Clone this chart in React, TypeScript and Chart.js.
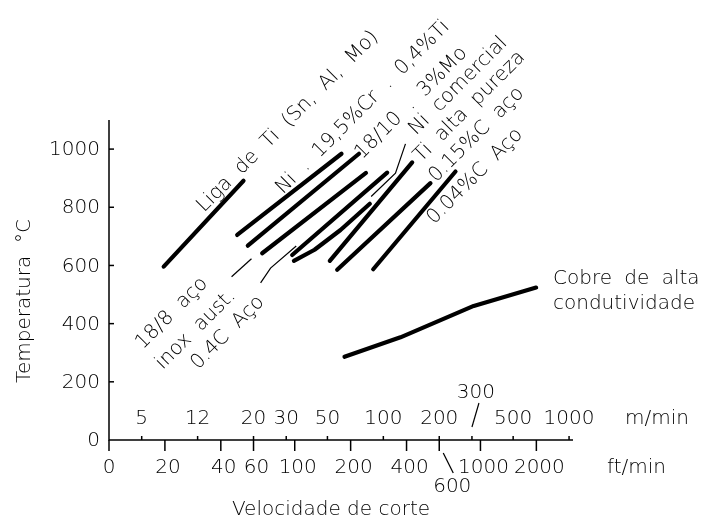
import React, { useEffect, useRef } from "react";
import { Chart, registerables } from "chart.js";

Chart.register(...registerables);

// ---------- data (x = cutting speed in ft/min, y = temperature in °C) ----------
const yTickValues = [0, 200, 400, 600, 800, 1000];
const ftTickValues = [10, 20, 40, 60, 100, 200, 400, 600, 1000, 2000];
const ftTickLabels = ["0", "20", "40", "60", "100", "200", "400", "600", "1000", "2000"];
const mTickLabels = ["5", "12", "20", "30", "50", "100", "200", "300", "500", "1000"];
const mTickAtFt = [15, 30, 60, 90, 150, 300, 600, 900, 1500, 3000];

const ligaTiX = [19.7, 53];
const ligaTiY = [596, 891];
const niCrTiX = [49, 178.6];
const niCrTiY = [705, 984];
const aco1810X = [55.9, 221.8];
const aco1810Y = [668, 984];
const aco188X = [66.8, 241.9];
const aco188Y = [642, 918];
const aco04CX = [96.9, 314.6];
const aco04CY = [636, 919];
const niComX = [99, 127.9, 176.4, 253.7];
const niComY = [616, 654, 722, 812];
const tiPuroX = [154.5, 429];
const tiPuroY = [616, 954];
const aco015X = [169.3, 538];
const aco015Y = [585, 883];
const aco004X = [264.6, 734];
const aco004Y = [587, 923];
const cobreX = [185.4, 371, 920, 1994];
const cobreY = [286, 353, 461, 524];

// leader lines joining labels to curves
const lead188X = [45.7, 58.5];
const lead188Y = [561, 623];
const lead04CX = [65.5, 74.1, 101.9];
const lead04CY = [540, 591, 667];
const leadNiX = [258, 348.7, 394.7];
const leadNiY = [837, 917, 1018];

const X_MIN = 10;
const X_MAX = 3150;
const Y_MAX = 1100;

// rotated labels: text, anchor (ft/min, °C) of baseline start
const rotLabelText = [
  "Liga de Ti (Sn, Al, Mo)",
  "Ni . 19,5%Cr . 0,4%Ti",
  "18/10 . 3%Mo",
  "Ni comercial",
  "Ti alta pureza",
  "0.15%C aço",
  "0.04%C Aço",
  "18/8 aço",
  "inox aust.",
  "0.4C Aço",
];
const rotLabelX = [32.5, 86.5, 230, 450, 479, 577, 562, 15.2, 19.5, 30.1];
const rotLabelY = [781, 843, 963, 1046, 953, 884, 740, 310, 241, 241];

const FONT_FAMILY = '"DejaVu Sans", "Liberation Sans", sans-serif';
const FONT = `200 20px ${FONT_FAMILY}`;

const pts = (xs: number[], ys: number[]) => xs.map((v, i) => ({ x: v, y: ys[i] }));

const decorPlugin = {
  id: "decor",
  afterDatasetsDraw(chart: any) {
    const { ctx } = chart;
    const xs = chart.scales.x;
    const ys = chart.scales.y;
    const X = (v: number) => xs.getPixelForValue(v);
    const Y = (v: number) => ys.getPixelForValue(v);
    const x0 = X(X_MIN);
    const y0 = Y(0);
    ctx.save();
    ctx.strokeStyle = "#000";
    ctx.fillStyle = "#000";
    ctx.lineWidth = 1.5;
    ctx.lineCap = "butt";
    ctx.font = FONT;

    // axes
    ctx.beginPath();
    ctx.moveTo(x0, Y(Y_MAX));
    ctx.lineTo(x0, y0);
    ctx.lineTo(X(X_MAX), y0);
    ctx.stroke();

    // y ticks (inward) and labels
    ctx.textAlign = "right";
    ctx.textBaseline = "middle";
    yTickValues.forEach((v) => {
      const py = Y(v);
      if (v > 0) {
        ctx.beginPath();
        ctx.moveTo(x0, py);
        ctx.lineTo(x0 + 5, py);
        ctx.stroke();
      }
      ctx.fillText(String(v), x0 - 9, py + 1);
    });

    // ft/min ticks (down) and labels
    ctx.textAlign = "center";
    ftTickValues.forEach((v, i) => {
      const px = X(v);
      ctx.beginPath();
      ctx.moveTo(px, y0);
      ctx.lineTo(px, y0 + 11);
      ctx.stroke();
      if (ftTickLabels[i] === "600") {
        ctx.lineWidth = 1.2;
        ctx.beginPath();
        ctx.moveTo(px + 4, y0 + 13);
        ctx.lineTo(px + 14, y0 + 33);
        ctx.stroke();
        ctx.lineWidth = 1.5;
        ctx.fillText(ftTickLabels[i], px + 13, y0 + 47);
      } else {
        ctx.fillText(ftTickLabels[i], px + (i === 0 ? 0 : 3), y0 + 28);
      }
    });

    // m/min ticks (up) and labels
    mTickAtFt.forEach((v, i) => {
      const px = X(v);
      ctx.beginPath();
      ctx.moveTo(px, y0);
      ctx.lineTo(px, y0 - 4);
      ctx.stroke();
      if (mTickLabels[i] === "300") {
        ctx.lineWidth = 1.2;
        ctx.beginPath();
        ctx.moveTo(px, y0 - 13);
        ctx.lineTo(px + 7, y0 - 37);
        ctx.stroke();
        ctx.lineWidth = 1.5;
        ctx.fillText(mTickLabels[i], px + 4, y0 - 47);
      } else {
        ctx.fillText(mTickLabels[i], px, y0 - 21);
      }
    });

    // units
    ctx.textAlign = "left";
    ctx.fillText("m/min", 625, y0 - 21);
    ctx.fillText("ft/min", 607, y0 + 28);

    // axis titles
    ctx.textAlign = "center";
    ctx.fillText("Velocidade de corte", 331, 510);
    ctx.save();
    ctx.translate(25, 301);
    ctx.rotate(-Math.PI / 2);
    ctx.fillText("Temperatura  °C", 0, 0);
    ctx.restore();

    // wider word gaps, as in the drafting font
    try {
      (ctx as any).wordSpacing = "6px";
    } catch (e) {}

    // Cobre label
    ctx.textAlign = "left";
    ctx.textBaseline = "alphabetic";
    ctx.fillText("Cobre de alta", 553, 284);
    ctx.fillText("condutividade", 553, 309);

    // rotated labels
    rotLabelText.forEach((t, i) => {
      ctx.save();
      ctx.translate(X(rotLabelX[i]), Y(rotLabelY[i]));
      ctx.rotate(-Math.PI / 4);
      ctx.fillText(t, 0, 0);
      ctx.restore();
    });

    ctx.restore();
  },
};

export default function App() {
  const ref = useRef<HTMLCanvasElement | null>(null);
  useEffect(() => {
    if (!ref.current) return;
    const thick = (xs: number[], ys: number[]) => ({
      data: pts(xs, ys),
      borderColor: "#000",
      backgroundColor: "#000",
      borderWidth: 4.2,
      borderCapStyle: "round",
      borderJoinStyle: "round",
      pointRadius: 0,
      tension: 0,
      fill: false,
    });
    const thin = (xs: number[], ys: number[]) => ({
      data: pts(xs, ys),
      borderColor: "#000",
      borderWidth: 1.2,
      pointRadius: 0,
      tension: 0,
      fill: false,
    });
    const chart = new Chart(ref.current, {
      type: "line",
      data: {
        datasets: [
          thick(ligaTiX, ligaTiY),
          thick(niCrTiX, niCrTiY),
          thick(aco1810X, aco1810Y),
          thick(aco188X, aco188Y),
          thick(aco04CX, aco04CY),
          thick(niComX, niComY),
          thick(tiPuroX, tiPuroY),
          thick(aco015X, aco015Y),
          thick(aco004X, aco004Y),
          thick(cobreX, cobreY),
          thin(lead188X, lead188Y),
          thin(lead04CX, lead04CY),
          thin(leadNiX, leadNiY),
        ] as any,
      },
      options: {
        responsive: false,
        animation: false,
        events: [],
        layout: { padding: { left: 109, right: 136, top: 120, bottom: 81 } },
        plugins: { legend: { display: false }, tooltip: { enabled: false } },
        scales: {
          x: { type: "logarithmic", min: X_MIN, max: X_MAX, display: false },
          y: { type: "linear", min: 0, max: Y_MAX, display: false },
        },
      },
      plugins: [decorPlugin],
    });
    return () => chart.destroy();
  }, []);
  return (
    <div style={{ position: "fixed", left: 0, top: 0, width: 709, height: 521, background: "#fff" }}>
      <canvas ref={ref} width={709} height={521} style={{ display: "block" }} />
    </div>
  );
}
